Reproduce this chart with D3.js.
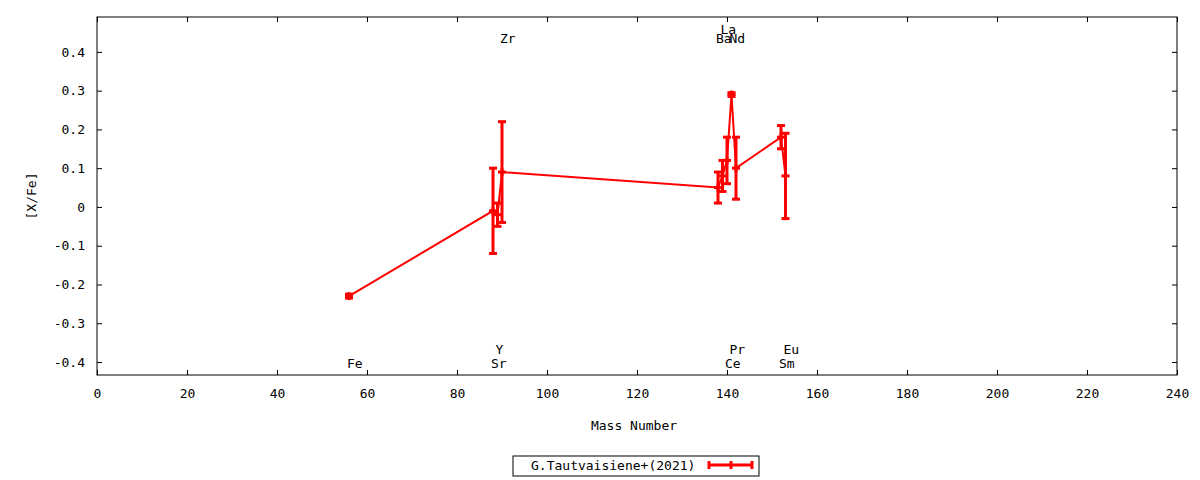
<!DOCTYPE html>
<html>
<head>
<meta charset="utf-8">
<script src="https://cdn.jsdelivr.net/npm/d3@7"></script>
<style>
  body { margin: 0; background: #fff; }
  svg text { font-family: "DejaVu Sans Mono", monospace; font-size: 13px; fill: #000; }
</style>
</head>
<body>
<svg id="chart" width="1200" height="480"></svg>
<script>
// element abundances
const elements = ["Fe", "Sr", "Y", "Zr", "Ba", "La", "Ce", "Pr", "Nd", "Sm", "Eu"];
const massNumbers = [56, 88, 89, 90, 138, 139, 140, 141, 142, 152, 153];
const abundances = [-0.23, -0.01, -0.02, 0.09, 0.05, 0.08, 0.12, 0.29, 0.10, 0.18, 0.08];
const errors = [0.005, 0.11, 0.03, 0.13, 0.04, 0.04, 0.06, 0.005, 0.08, 0.03, 0.11];

// where the element names sit (mass number of the label, top/bottom row, stacking level)
const labelMass = [56, 88, 89, 90, 138, 139, 140, 141, 141, 152, 153];
const labelSide = ["bottom", "bottom", "bottom", "top", "top", "top", "bottom", "bottom", "top", "bottom", "bottom"];
const labelLevel = [0, 0, 1, 0, 0, 1, 0, 1, 0, 0, 1];

const xTicks = [0, 20, 40, 60, 80, 100, 120, 140, 160, 180, 200, 220, 240];
const yTicks = [-0.4, -0.3, -0.2, -0.1, 0, 0.1, 0.2, 0.3, 0.4];
const seriesName = "G.Tautvaisiene+(2021)";

const margin = { top: 17, right: 23, bottom: 105, left: 97 };
const width = 1200 - margin.left - margin.right;
const height = 480 - margin.top - margin.bottom;
const red = "#ff0000";

const svg = d3.select("#chart");
const g = svg.append("g").attr("transform", `translate(${margin.left},${margin.top})`);

const x = d3.scaleLinear().domain([0, 240]).range([0, width]);
const y = d3.scaleLinear().domain([-0.4335, 0.49]).range([height, 0]);

const fmt = d => String(Math.round(d * 10) / 10);

// axes, ticks point inwards like gnuplot
g.append("g")
    .attr("transform", `translate(0,${height})`)
    .call(d3.axisBottom(x).tickValues(xTicks).tickSizeInner(-5).tickSizeOuter(0).tickPadding(14).tickFormat(d => d));
g.append("g")
    .call(d3.axisTop(x).tickValues(xTicks).tickSizeInner(-5).tickSizeOuter(0).tickFormat(""));
g.append("g")
    .call(d3.axisLeft(y).tickValues(yTicks).tickSizeInner(-5).tickSizeOuter(0).tickPadding(12).tickFormat(fmt));
g.append("g")
    .attr("transform", `translate(${width},0)`)
    .call(d3.axisRight(y).tickValues(yTicks).tickSizeInner(-5).tickSizeOuter(0).tickFormat(""));

g.selectAll(".domain").remove();
g.selectAll(".tick line").attr("stroke", "#000");
g.selectAll(".tick text").style("font-family", "DejaVu Sans Mono").style("font-size", "13px");

g.append("rect")
    .attr("width", width)
    .attr("height", height)
    .attr("fill", "none")
    .attr("stroke", "#000")
    .attr("stroke-width", 1);

// axis titles
svg.append("text")
    .attr("x", 634)
    .attr("y", 430)
    .attr("text-anchor", "middle")
    .text("Mass Number");

svg.append("text")
    .attr("transform", `translate(36,${margin.top + height / 2}) rotate(-90)`)
    .attr("text-anchor", "middle")
    .text("[X/Fe]");

// element names
const points = elements.map((el, i) => ({
    el: el, mass: massNumbers[i], val: abundances[i], err: errors[i],
    lx: labelMass[i], side: labelSide[i], level: labelLevel[i]
}));

g.selectAll(".elabel")
    .data(points)
    .enter().append("text")
    .attr("class", "elabel")
    .attr("x", d => x(d.lx) - 2)
    .attr("y", d => d.side === "top" ? 26 - d.level * 9 : height - 7 - d.level * 14)
    .text(d => d.el);

// connecting line
const line = d3.line().x(d => x(d.mass)).y(d => y(d.val));
g.append("path")
    .datum(points)
    .attr("d", line)
    .attr("fill", "none")
    .attr("stroke", red)
    .attr("stroke-width", 2);

// error bars with caps and a + marker
const capW = 4;
const bars = g.selectAll(".err")
    .data(points)
    .enter().append("g")
    .attr("class", "err")
    .attr("stroke", red)
    .attr("stroke-width", 3);

bars.append("line")
    .attr("x1", d => x(d.mass)).attr("x2", d => x(d.mass))
    .attr("y1", d => y(d.val - d.err)).attr("y2", d => y(d.val + d.err));
bars.append("line")
    .attr("x1", d => x(d.mass) - capW).attr("x2", d => x(d.mass) + capW)
    .attr("y1", d => y(d.val + d.err)).attr("y2", d => y(d.val + d.err));
bars.append("line")
    .attr("x1", d => x(d.mass) - capW).attr("x2", d => x(d.mass) + capW)
    .attr("y1", d => y(d.val - d.err)).attr("y2", d => y(d.val - d.err));
bars.append("line")
    .attr("x1", d => x(d.mass) - capW).attr("x2", d => x(d.mass) + capW)
    .attr("y1", d => y(d.val)).attr("y2", d => y(d.val));
bars.append("line")
    .attr("x1", d => x(d.mass)).attr("x2", d => x(d.mass))
    .attr("y1", d => y(d.val) - capW).attr("y2", d => y(d.val) + capW);

// legend
const legend = svg.append("g").attr("transform", "translate(513,456)");
legend.append("rect")
    .attr("width", 246).attr("height", 20)
    .attr("fill", "none").attr("stroke", "#000");
legend.append("text")
    .attr("x", 18).attr("y", 14)
    .text(seriesName);
const sample = legend.append("g").attr("stroke", red).attr("stroke-width", 3);
sample.append("line").attr("x1", 196).attr("x2", 239).attr("y1", 9).attr("y2", 9);
[196, 239].forEach(px => {
    sample.append("line").attr("x1", px).attr("x2", px).attr("y1", 5).attr("y2", 13);
});
sample.append("line").attr("x1", 218).attr("x2", 218).attr("y1", 5).attr("y2", 13);
</script>
</body>
</html>
